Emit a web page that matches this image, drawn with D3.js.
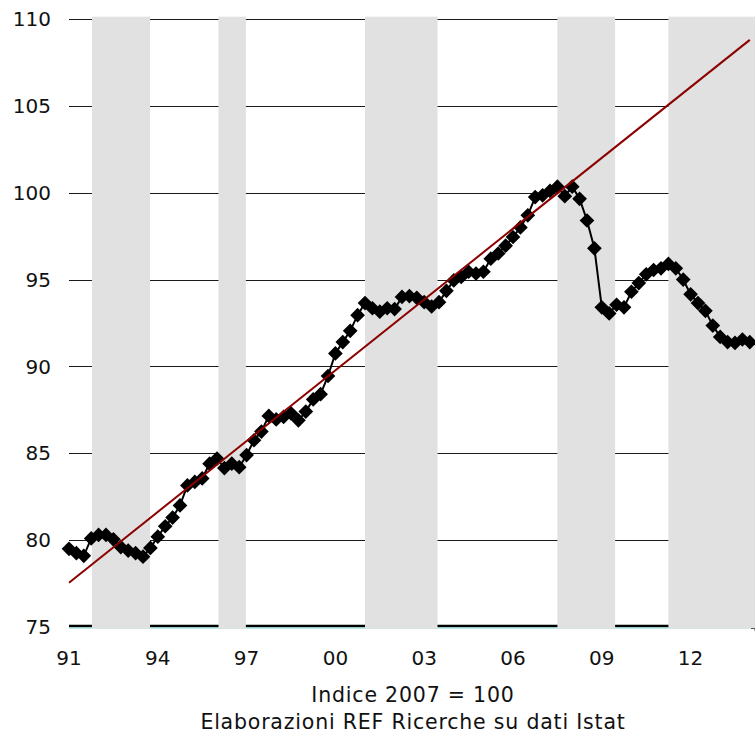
<!DOCTYPE html>
<html>
<head>
<meta charset="utf-8">
<script src="https://cdn.jsdelivr.net/npm/d3@7"></script>
<style>
  html, body { margin: 0; padding: 0; background: #fff; }
  svg { display: block; }
  text { font-family: "DejaVu Sans", Verdana, sans-serif; fill: #111; }
</style>
</head>
<body>
<svg id="chart" width="755" height="735"></svg>
<script>
// Quarterly index, 1991Q1 onwards (Indice 2007 = 100)
const seriesValues = [
  79.5, 79.25, 79.1, 80.1, 80.3, 80.3, 80.05, 79.6, 79.4, 79.25, 79.05, 79.55,
  80.2, 80.8, 81.3, 82.0, 83.15, 83.35, 83.55, 84.4, 84.7, 84.15, 84.4, 84.2,
  84.9, 85.75, 86.25, 87.15, 86.95, 87.1, 87.3, 86.9, 87.4, 88.1, 88.4, 89.45,
  90.75, 91.4, 92.05, 92.95, 93.65, 93.35, 93.15, 93.35, 93.3, 94.0, 94.05, 93.95,
  93.7, 93.45, 93.7, 94.35, 94.95, 95.15, 95.45, 95.35, 95.45, 96.2, 96.5, 96.95,
  97.45, 98.0, 98.7, 99.75, 99.85, 100.1, 100.35, 99.8, 100.35, 99.65, 98.4, 96.8,
  93.4, 93.05, 93.55, 93.4, 94.3, 94.8, 95.3, 95.55, 95.65, 95.9, 95.65, 95.0,
  94.15, 93.65, 93.2, 92.35, 91.7, 91.4, 91.35, 91.55, 91.4
];
// Linear trend: quarter index and value at its two ends
const trendIndex = [0, 92];
const trendValues = [77.55, 108.8];
// Recession bands (start / end in quarter index from 1991Q1)
const bandStart = [3.1, 20.2, 40.0, 66.0, 81.0];
const bandEnd   = [10.95, 23.9, 49.8, 73.8, 94.0];
// Axis ticks
const xTickIndex  = [0, 12, 24, 36, 48, 60, 72, 84];
const xTickLabels = ["91", "94", "97", "00", "03", "06", "09", "12"];
const yTicks = [75, 80, 85, 90, 95, 100, 105, 110];
const notes = ["Indice 2007 = 100", "Elaborazioni REF Ricerche su dati Istat"];

const svg = d3.select("#chart");
const pLeft = 69, pRight = 755, pTop = 19, pBottom = 627;

const x = d3.scaleLinear().domain([0, 84]).range([pLeft, pLeft + 7 * 88.8]);
const y = d3.scaleLinear().domain([75, 110]).range([pBottom, pTop]);

// Gridlines
svg.append("g").selectAll("line")
  .data(yTicks.filter(v => v > 75))
  .join("line")
  .attr("x1", pLeft).attr("x2", pRight)
  .attr("y1", d => Math.round(y(d)) + 0.5).attr("y2", d => Math.round(y(d)) + 0.5)
  .attr("stroke", "#1a1a1a").attr("stroke-width", 1.2);

// Bottom axis line (black with cyan edge)
svg.append("line")
  .attr("x1", pLeft).attr("x2", pRight)
  .attr("y1", y(75) - 1).attr("y2", y(75) - 1)
  .attr("stroke", "#000").attr("stroke-width", 2.4);
svg.append("line")
  .attr("x1", pLeft).attr("x2", pRight)
  .attr("y1", y(75) + 1).attr("y2", y(75) + 1)
  .attr("stroke", "#7fd3d3").attr("stroke-width", 1.2);

// Clip to plot area
svg.append("clipPath").attr("id", "plotclip")
  .append("rect").attr("x", pLeft - 8).attr("y", 0)
  .attr("width", pRight - pLeft + 8).attr("height", pBottom + 5);
svg.append("clipPath").attr("id", "bandclip")
  .append("rect").attr("x", pLeft).attr("y", 0)
  .attr("width", pRight - pLeft).attr("height", pBottom + 5);

// Recession bands
svg.append("g").attr("clip-path", "url(#bandclip)")
  .selectAll("rect")
  .data(bandStart.map((s, k) => [s, bandEnd[k]]))
  .join("rect")
  .attr("x", d => x(d[0]))
  .attr("width", d => x(d[1]) - x(d[0]))
  .attr("y", y(110) - 2.3)
  .attr("height", (y(75) + 1.7) - (y(110) - 2.3))
  .attr("fill", "#e1e1e1");

// Series line
const pts = seriesValues.map((v, i) => [i, v]);
const g = svg.append("g").attr("clip-path", "url(#plotclip)");
g.append("path")
  .datum(pts)
  .attr("d", d3.line().x(d => x(d[0])).y(d => y(d[1])))
  .attr("fill", "none").attr("stroke", "#000").attr("stroke-width", 2);

// Diamond markers
const side = 10.4;
g.selectAll("rect.m")
  .data(pts)
  .join("rect")
  .attr("class", "m")
  .attr("x", -side / 2).attr("y", -side / 2)
  .attr("width", side).attr("height", side)
  .attr("transform", d => `translate(${x(d[0])},${y(d[1])}) rotate(45)`)
  .attr("fill", "#000");

// Trend line
g.append("path")
  .datum(trendIndex.map((t, k) => [t, trendValues[k]]))
  .attr("d", d3.line().x(d => x(d[0])).y(d => y(d[1])))
  .attr("fill", "none").attr("stroke", "#8b0000").attr("stroke-width", 2);

// Y labels
svg.append("g").selectAll("text")
  .data(yTicks)
  .join("text")
  .attr("x", 51)
  .attr("y", d => y(d))
  .attr("dy", "0.36em")
  .attr("text-anchor", "end")
  .style("font-size", "20px")
  .text(d => d);

// X labels
svg.append("g").selectAll("text")
  .data(xTickIndex)
  .join("text")
  .attr("x", d => x(d))
  .attr("y", 665)
  .attr("text-anchor", "middle")
  .style("font-size", "20px")
  .text((d, k) => xTickLabels[k]);

// right-end small tick
svg.append("path")
  .attr("d", `M${pRight - 4},${pBottom + 1.5}H${pRight}V${pBottom + 4}`)
  .attr("fill", "none").attr("stroke", "#555").attr("stroke-width", 1);

// Notes
svg.append("g").selectAll("text")
  .data(notes)
  .join("text")
  .attr("x", 413)
  .attr("y", (d, k) => 702 + k * 27)
  .attr("text-anchor", "middle")
  .style("font-size", "20.5px")
  .style("letter-spacing", "0.8px")
  .text(d => d);
</script>
</body>
</html>
